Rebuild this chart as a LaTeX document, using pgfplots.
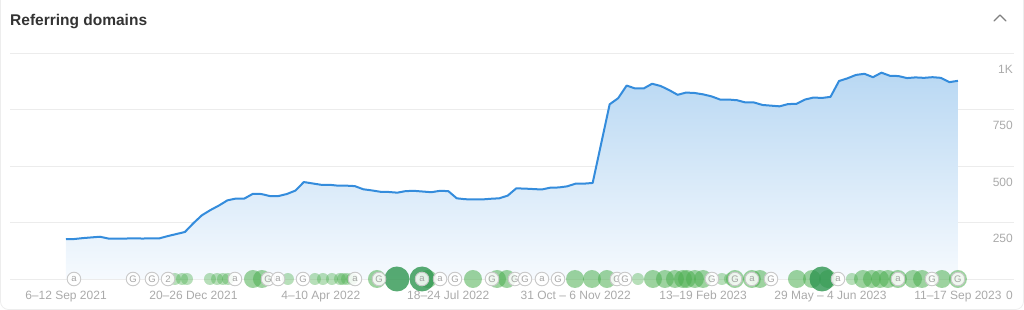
\documentclass[border=0pt]{standalone}
\usepackage{pgfplots}
\pgfplotsset{compat=1.18}
\usepackage{pgfplotstable}
\usepackage{fontspec}
\setmainfont{Liberation Sans}
\definecolor{linecol}{RGB}{52,140,220}
\definecolor{gridcol}{RGB}{236,236,236}
\definecolor{labcol}{RGB}{170,170,170}
\definecolor{titlecol}{RGB}{51,51,51}
\definecolor{gr}{RGB}{76,175,80}
\definecolor{grd}{RGB}{46,150,80}
\definecolor{annb}{RGB}{200,200,200}
\definecolor{annt}{RGB}{150,150,150}

\pgfplotstableread{
i v
0 176
1 177
2 181
3 184
4 187
5 179
6 179
7 179
8 180
9 179
10 180
11 180
12 190
13 199
14 208
15 247
16 282
17 305
18 325
19 348
20 356
21 356
22 377
23 376
24 367
25 367
26 376
27 391
28 429
29 423
30 417
31 417
32 413
33 413
34 411
35 397
36 392
37 386
38 385
39 382
40 389
41 390
42 387
43 384
44 390
45 389
46 357
47 353
48 352
49 352
50 355
51 357
52 369
53 401
54 400
55 398
56 396
57 404
58 405
59 410
60 422
61 422
62 425
64 773
65 800
66 856
67 843
68 843
69 864
70 854
71 836
72 815
73 825
74 823
75 817
76 808
77 794
78 794
79 791
80 781
81 781
82 770
83 767
84 764
85 774
86 775
87 794
88 803
89 801
90 806
91 876
92 888
93 903
94 908
95 893
96 913
97 899
98 898
99 889
100 892
101 890
102 893
103 890
104 871
105 877
}\domains

\pgfplotstableread{
x y
12.83 0
13.66 0
14.24 0
16.95 0
17.78 0
18.48 0
19.07 0
26.13 0
29.31 0
30.25 0
31.31 0
32.25 0
32.61 0
33.08 0
33.67 0
67.33 0
77.22 0
78.16 0
92.52 0
}\bubL

\pgfplotstableread{
x y
22.01 0
23.07 0
36.61 0
42.61 0
47.91 0
50.74 0
51.91 0
59.92 0
61.92 0
63.68 0
69.10 0
70.51 0
71.69 0
72.63 0
73.10 0
74.04 0
74.99 0
78.75 0
80.75 0
81.69 0
86.05 0
87.82 0
89.70 0
93.82 0
94.88 0
95.82 0
96.76 0
97.94 0
99.71 0
100.77 0
103.12 0
105.00 0
}\bubM

\pgfplotstableread{
x y
38.96 0
41.91 0
89.00 0
}\bubD

\pgfplotstableread{
x y t
0.94 0 a
7.89 0 G
10.12 0 G
12.01 0 2
19.89 0 a
23.78 0 G
24.96 0 a
27.90 0 G
34.02 0 a
36.85 0 G
41.91 0 a
44.03 0 a
45.79 0 G
50.15 0 G
52.85 0 G
54.03 0 G
56.03 0 a
57.92 0 G
64.86 0 G
65.80 0 G
76.04 0 G
78.75 0 G
80.75 0 a
82.99 0 G
90.88 0 a
97.94 0 a
101.94 0 G
105.00 0 G
}\ann

\begin{document}
\begin{tikzpicture}
\useasboundingbox (0pt,0pt) rectangle (1024pt,310pt);
\draw[black!7, line width=0.8pt, rounded corners=8pt] (0.5pt,0.5pt) rectangle (1023.5pt,330pt);
\node[anchor=base west, inner sep=0pt, text=titlecol, font=\fontsize{15.5}{18}\selectfont\bfseries] at (10pt,284pt) {Referring domains};
\draw[black!50, line width=1.3pt, line cap=round, line join=round] (994pt,289pt) -- (1000pt,295pt) -- (1006pt,289pt);
\begin{axis}[
  at={(10pt,31pt)}, anchor=south west,
  scale only axis, width=1004pt, height=226pt,
  xmin=-6.592, xmax=111.6, ymin=0, ymax=1000,
  clip=false,
  axis line style={draw=none},
  tick style={draw=none},
  major tick length=0pt,
  ymajorgrids, grid style={gridcol, line width=0.8pt},
  ytick={0,250,500,750,1000},
  yticklabels={0,250,500,750,1K},
  yticklabel pos=right,
  yticklabel style={anchor=base east, inner sep=0pt, yshift=-20.5pt, xshift=-1pt, text=labcol, font=\fontsize{12}{14}\selectfont},
  xtick={0,15,30,45,60,75,90,105},
  xticklabels={6–12 Sep 2021,20–26 Dec 2021,4–10 Apr 2022,18–24 Jul 2022,31 Oct – 6 Nov 2022,13–19 Feb 2023,29 May – 4 Jun 2023,11–17 Sep 2023},
  xticklabel style={anchor=base, inner sep=0pt, yshift=-21pt, text=labcol, font=\fontsize{12}{14}\selectfont},
  /pgf/number format/assume math mode=true,
]
\addplot[draw=none, top color={rgb,255:red,185;green,216;blue,243}, bottom color={rgb,255:red,246;green,250;blue,254}] table[x=i,y=v] {\domains} \closedcycle;
\addplot[linecol, line width=2pt, line join=round] table[x=i,y=v] {\domains};
\addplot[only marks, mark=*, mark size=6pt, mark options={draw opacity=0, fill=gr, fill opacity=0.4}] table {\bubL};
\addplot[only marks, mark=*, mark size=9pt, mark options={draw opacity=0, fill=gr, fill opacity=0.55}] table {\bubM};
\addplot[only marks, mark=*, mark size=12.5pt, mark options={draw opacity=0, fill=grd, fill opacity=0.8}] table {\bubD};
\addplot[only marks, mark=*, mark size=6.8pt, mark options={draw=annb, fill=white, fill opacity=0.85, line width=0.9pt},
  nodes near coords, point meta=explicit symbolic,
  every node near coord/.append style={anchor=center, inner sep=0pt, text=annt, font=\fontsize{9.5}{10}\selectfont}] table[meta=t] {\ann};
\end{axis}
\end{tikzpicture}
\end{document}
